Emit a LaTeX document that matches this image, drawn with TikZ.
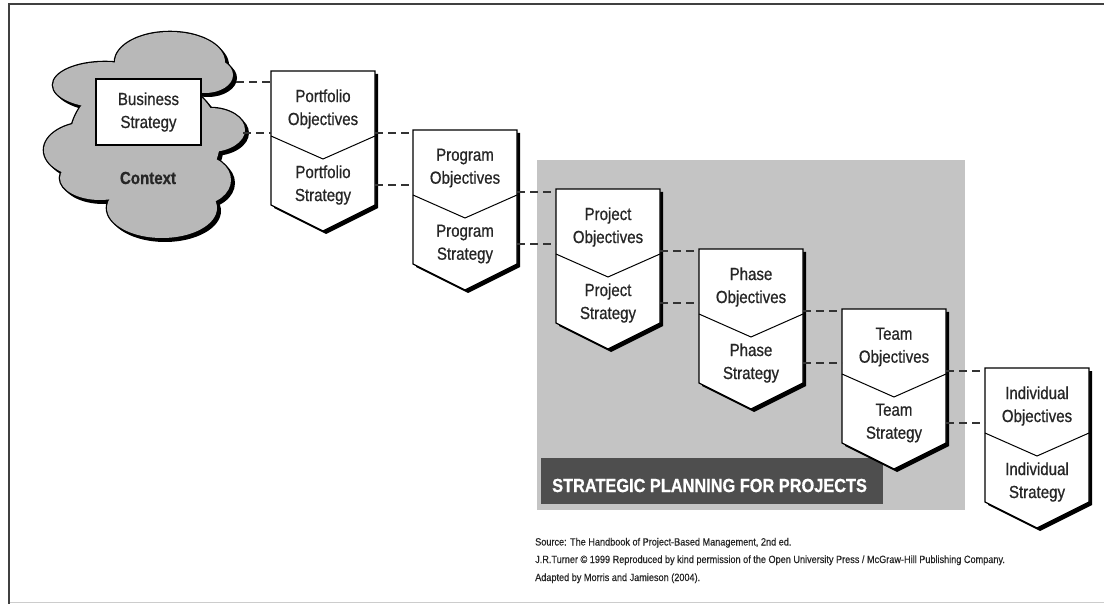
\documentclass[tikz,border=0pt]{standalone}
\usepackage{fontspec}
\setmainfont{Liberation Sans}
\newfontfamily\boxfont{Liberation Sans}[FakeStretch=0.86, FakeBold=0.7]
\newfontfamily\barfont{Liberation Sans}[FakeStretch=0.86, FakeBold=0.8]
\newfontfamily\srcfont{Liberation Sans}[FakeStretch=0.87, FakeBold=0.4]
\definecolor{panelgray}{HTML}{C4C4C4}
\definecolor{cloudgray}{HTML}{B8B8B8}
\definecolor{bargray}{HTML}{4E4E4E}
\tikzset{
  boxtxt/.style={font=\boxfont\fontsize{17.5}{23}\selectfont, align=center, text=black!85, inner sep=0pt},
  conn/.style={dash pattern=on 8pt off 5pt, line width=2.4pt, black!80},
  outl/.style={line width=1.3pt, black},
  srctxt/.style={font=\srcfont\fontsize{10.5}{12}\selectfont, anchor=base west, inner sep=0pt, text=black!85},
}
\begin{document}
\begin{tikzpicture}[x=1pt,y=-1pt]
\useasboundingbox (0,0) rectangle (1104,604);
\fill[white] (0,0) rectangle (1104,604);
% frame
\draw[line width=1.8pt, black!75] (1104,4) -- (9,4) -- (9,604);
\draw[line width=0.8pt, black!20] (10,602) -- (1104,602);
% panel
\fill[panelgray] (537,160) rectangle (965,510);
\fill[bargray] (541,458) rectangle (883,504);
\node[font=\barfont\bfseries\fontsize{19}{22}\selectfont, text=white, anchor=west, inner sep=0pt] (bar) at (552,485.5) {STRATEGIC PLANNING FOR PROJECTS};
% cloud
\def\cloudlist{170/62/55/30, 105/85/52/23, 90/150/46/28, 100/178/40/22, 162/208/55/30, 205/75/28/18, 210/130/35/22, 198/180/33/25, 145/140/75/65}
\foreach \cx/\cy/\rx/\ry in \cloudlist
  \fill[black] ({\cx+3},{\cy+3}) ellipse[x radius=\rx pt+1pt, y radius=\ry pt+1pt];
\foreach \cx/\cy/\rx/\ry in \cloudlist
  \draw[line width=2.6pt, black] (\cx,\cy) ellipse[x radius=\rx pt, y radius=\ry pt];
\foreach \cx/\cy/\rx/\ry in \cloudlist
  \fill[cloudgray] (\cx,\cy) ellipse[x radius=\rx pt, y radius=\ry pt];
\node[boxtxt, draw=black, line width=1.3pt, fill=white, minimum width=105pt, minimum height=66pt] (bs) at (148.5,112) {Business\\Strategy};
\node[boxtxt, font=\boxfont\bfseries\fontsize{17.5}{23}\selectfont] (ctx) at (148,178) {Context};
\coordinate (cl-o1) at (236,82);
\coordinate (cl-o2) at (243,133);
% boxes
\foreach \nm/\L/\T/\ta/\tb in {
  pf/271/71/{Portfolio\\Objectives}/{Portfolio\\Strategy},
  pg/413/130/{Program\\Objectives}/{Program\\Strategy},
  pj/556/189/{Project\\Objectives}/{Project\\Strategy},
  ph/699/249/{Phase\\Objectives}/{Phase\\Strategy},
  tm/842/309/{Team\\Objectives}/{Team\\Strategy},
  iv/985/368/{Individual\\Objectives}/{Individual\\Strategy}}
{
  \fill[black] ({\L+3},{\T+3}) -- ++(104,0) -- ++(0,134) -- ++(-52,26) -- ++(-52,-26) -- cycle;
  \draw[outl, fill=white] (\L,\T) -- ++(104,0) -- ++(0,134) -- ++(-52,26) -- ++(-52,-26) -- cycle;
  \draw[outl, line width=1pt] (\L,{\T+65}) -- ++(52,23) -- ++(52,-23);
  \node[boxtxt] (\nm-obj) at ({\L+52},{\T+38}) {\ta};
  \node[boxtxt] (\nm-str) at ({\L+52},{\T+114}) {\tb};
  \node[inner sep=0pt, minimum width=104pt, minimum height=160pt, anchor=north west] (\nm) at (\L,\T) {};
  \coordinate (\nm-o1) at ({\L+104},{\T+62});
  \coordinate (\nm-o2) at ({\L+104},{\T+114});
}
% connectors
\draw[conn] (cl-o1) -- (cl-o1 -| pf.west);
\draw[conn] (cl-o2) -- (cl-o2 -| pf.west);
\draw[conn] (pf-o1) -- (pf-o1 -| pg.west);
\draw[conn] (pf-o2) -- (pf-o2 -| pg.west);
\draw[conn] (pg-o1) -- (pg-o1 -| pj.west);
\draw[conn] (pg-o2) -- (pg-o2 -| pj.west);
\draw[conn] (pj-o1) -- (pj-o1 -| ph.west);
\draw[conn] (pj-o2) -- (pj-o2 -| ph.west);
\draw[conn] (ph-o1) -- (ph-o1 -| tm.west);
\draw[conn] (ph-o2) -- (ph-o2 -| tm.west);
\draw[conn] (tm-o1) -- (tm-o1 -| iv.west);
\draw[conn] (tm-o2) -- (tm-o2 -| iv.west);
% source
\node[srctxt] (src1) at (535,545.5) {Source: The Handbook of Project-Based Management, 2nd ed.};
\node[srctxt] (src2) at (535,563) {J.R.Turner © 1999 Reproduced by kind permission of the Open University Press / McGraw-Hill Publishing Company.};
\node[srctxt] (src3) at (535,581) {Adapted by Morris and Jamieson (2004).};
\end{tikzpicture}
\end{document}
